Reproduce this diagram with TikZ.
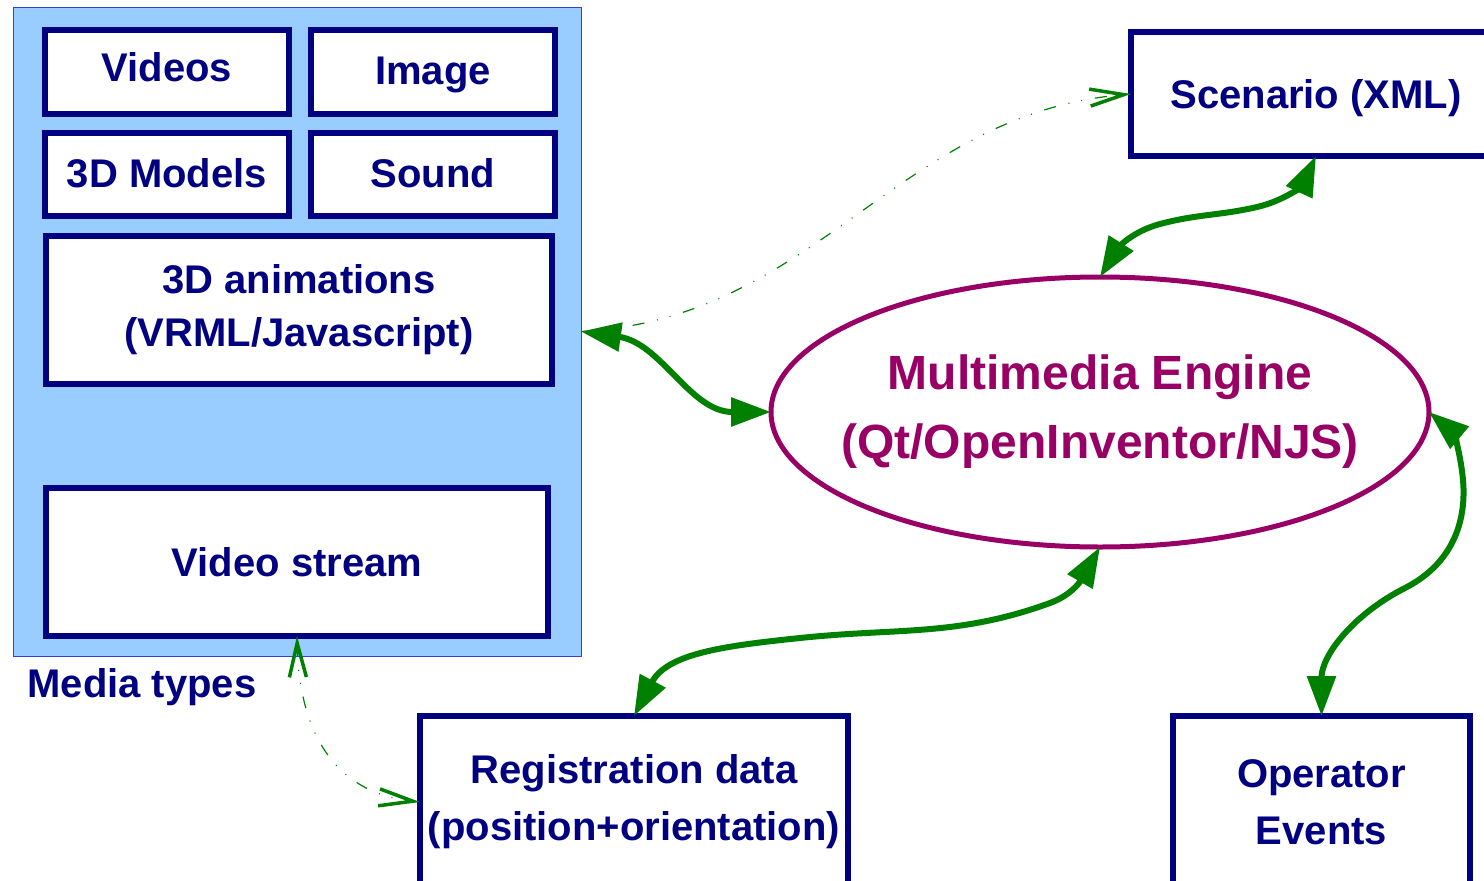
\documentclass[tikz,border=0pt]{standalone}
\usepackage{fontspec}
\setmainfont{Liberation Sans}
\usetikzlibrary{arrows.meta,shapes.geometric}
\definecolor{navy}{RGB}{0,0,128}
\definecolor{grn}{RGB}{0,128,0}
\definecolor{purp}{RGB}{153,0,102}
\definecolor{panelfill}{RGB}{153,204,255}
\definecolor{paneledge}{RGB}{51,68,204}
\begin{document}
\begin{tikzpicture}[x=1pt,y=1pt,
  panelbox/.style={draw=paneledge, line width=1pt, fill=panelfill, inner sep=0pt, outer sep=0pt, anchor=north west},
  mbox/.style={draw=navy, line width=6pt, fill=white, text=navy,
    font=\bfseries\fontsize{40}{53}\selectfont, align=center, inner sep=0pt, outer sep=0pt, anchor=north west},
  capc/.style={text height=29pt, text depth=#1},
  txt/.style={text=navy, font=\bfseries\fontsize{40}{57}\selectfont, align=center, inner sep=0pt},
  engtxt/.style={text=purp, font=\bfseries\fontsize{48}{69}\selectfont, align=center, inner sep=0pt},
  thickconn/.style={draw=grn, line width=6pt,
    {Triangle[length=40pt,width=28pt]}-{Triangle[length=40pt,width=28pt]}},
  dotconn/.style={draw=grn, line width=1.2pt,
    dash pattern=on 12pt off 13pt on 1pt off 12pt on 1pt off 13pt},
  barb/.tip={Straight Barb[length=34pt,width=17pt,line width=3.5pt]}
]
\useasboundingbox (0,0) rectangle (1484,-881);
\clip (0,0) rectangle (1484,-881);

% media panel
\node[panelbox, minimum width=568pt, minimum height=649pt] (panel) at (13,-7) {};
\node[mbox, capc=10pt, minimum width=244pt, minimum height=84pt] (videos) at (45,-30) {Videos};
\node[mbox, capc=4pt, minimum width=244pt, minimum height=84pt] (image) at (311,-30) {Image};
\node[mbox, capc=4pt, minimum width=244pt, minimum height=83pt] (models) at (45,-133) {3D Models};
\node[mbox, capc=4pt, minimum width=244pt, minimum height=83pt] (sound) at (311,-133) {Sound};
\node[mbox, minimum width=506pt, minimum height=148pt] (anim) at (46,-236) {3D animations\\(VRML/Javascript)};
\node[mbox, capc=0pt, minimum width=502pt, minimum height=148pt] (vs) at (46,-488) {Video stream};
\node[txt] (mtypes) at (142,-687) {Media types};

% other boxes
\node[mbox, capc=0pt, minimum width=370pt, minimum height=124pt] (scen) at (1131,-32) {Scenario (XML)};
\node[mbox, minimum width=428pt, minimum height=200pt] (reg) at (420,-716) {};
\node[txt] (regt) at (634,-802) {Registration data\\(position+orientation)};
\node[mbox, minimum width=297pt, minimum height=200pt] (op) at (1173,-716) {};
\node[txt] (opt) at (1321.5,-802) {Operator\\Events};

% engine
\node[ellipse, draw=purp, line width=5pt, minimum width=658pt, minimum height=270pt, inner sep=0pt, outer sep=0pt] (eng) at (1100,-412) {};
\node[engtxt] (engt) at (1100,-412) {Multimedia Engine\\(Qt/OpenInventor/NJS)};

% dotted connectors
\draw[dotconn, -barb] (panel.east) to[out=3,in=185] (scen.west);
\draw[dotconn, barb-barb] (vs.south) .. controls +(2,-93) and +(-88,10) .. (reg.west |- regt.center);

% thick connectors
\draw[thickconn] (panel.east) to[out=-8,in=180] (eng.west);
\draw[thickconn] (eng.north) to[out=58,in=195] (1160,-224) to[out=15,in=193] (1257,-207) to[out=13,in=245] (scen.south);
\draw[thickconn] (eng.south) to[out=240,in=20] (1050,-603) to[out=200,in=6] (800,-638) to[out=186,in=62] (reg.north);
\draw[thickconn] (eng.east) to[out=-40,in=95] (1463,-480) to[out=-85,in=27] (1405,-588) to[out=207,in=90] (op.north);
\end{tikzpicture}
\end{document}
